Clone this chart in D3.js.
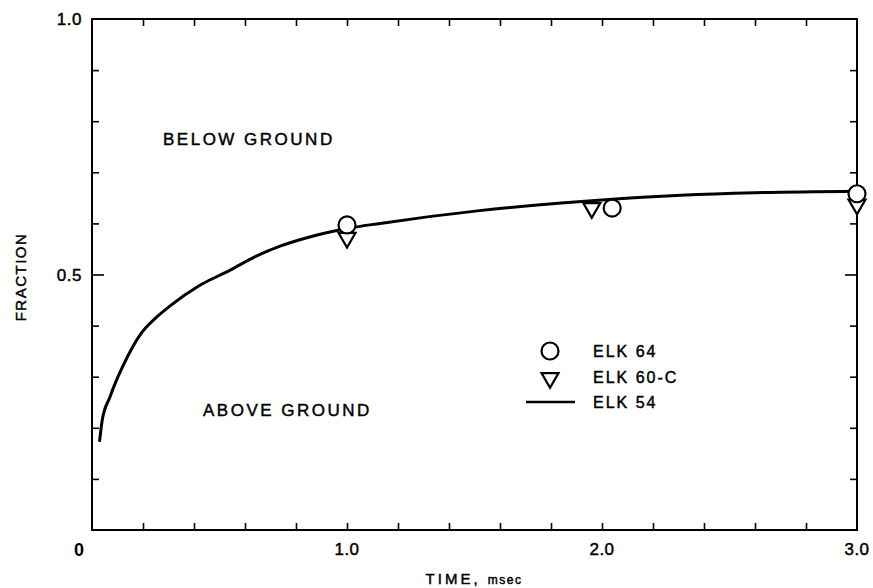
<!DOCTYPE html>
<html>
<head>
<meta charset="utf-8">
<script src="https://cdn.jsdelivr.net/npm/d3@7"></script>
<style>
  body { margin: 0; background: #fff; }
  svg { display: block; font-family: "Liberation Sans", Arial, sans-serif; }
  .lbl { fill: #000; stroke: #000; stroke-width: 0.45px; }
</style>
</head>
<body>
<div id="chart"></div>
<script>
// ELK 54 curve (time msec, fraction)
const curveTime = [0.03, 0.04, 0.07, 0.14, 0.19, 0.25, 0.31, 0.42, 0.54, 0.64, 0.74, 0.85, 1.0, 1.13, 1.52, 1.84, 2.0, 2.31, 2.6, 3.0];
const curveFrac = [0.175, 0.215, 0.26, 0.34, 0.383, 0.415, 0.44, 0.478, 0.508, 0.535, 0.556, 0.573, 0.59, 0.60, 0.625, 0.64, 0.646, 0.655, 0.66, 0.663];

// ELK 64 (circles)
const elk64Time = [1.0, 2.04, 3.0];
const elk64Frac = [0.597, 0.630, 0.658];

// ELK 60-C (triangles)
const elk60Time = [1.0, 1.96, 3.0];
const elk60Frac = [0.572, 0.630, 0.637];

const xTickVals = [0.2, 0.4, 0.6, 0.8, 1.0, 1.2, 1.4, 1.6, 1.8, 2.0, 2.2, 2.4, 2.6, 2.8];
const yTickVals = [0.1, 0.2, 0.3, 0.4, 0.5, 0.6, 0.7, 0.8, 0.9];
const xLabels = [{ v: 1.0, t: "1.0" }, { v: 2.0, t: "2.0" }, { v: 3.0, t: "3.0" }];
const yLabels = [{ v: 0.5, t: "0.5" }, { v: 1.0, t: "1.0" }];

const W = 873, H = 588;
const plotL = 92, plotR = 857, plotT = 19, plotB = 530;

const svg = d3.select("#chart").append("svg")
    .attr("width", W)
    .attr("height", H);

const x = d3.scaleLinear().domain([0, 3]).range([plotL, plotR]);
const y = d3.scaleLinear().domain([0, 1]).range([plotB, plotT]);

// ticks, all pointing inward; the 0.5 ticks are a bit longer
svg.append("g")
    .attr("transform", `translate(0,${plotB})`)
    .call(d3.axisBottom(x).tickValues(xTickVals).tickSize(-7).tickFormat(""))
    .call(g => g.select(".domain").remove());
svg.append("g")
    .attr("transform", `translate(0,${plotT})`)
    .call(d3.axisTop(x).tickValues(xTickVals).tickSize(-7).tickFormat(""))
    .call(g => g.select(".domain").remove());
svg.append("g")
    .attr("transform", `translate(${plotL},0)`)
    .call(d3.axisLeft(y).tickValues(yTickVals).tickSize(-7).tickFormat(""))
    .call(g => g.select(".domain").remove())
    .selectAll(".tick line").filter(d => d === 0.5).attr("x2", 12);
svg.append("g")
    .attr("transform", `translate(${plotR},0)`)
    .call(d3.axisRight(y).tickValues(yTickVals).tickSize(-7).tickFormat(""))
    .call(g => g.select(".domain").remove())
    .selectAll(".tick line").filter(d => d === 0.5).attr("x2", -12);
svg.selectAll(".tick line").attr("stroke", "#000").attr("stroke-width", 1.6);

// frame
svg.append("rect")
    .attr("x", plotL).attr("y", plotT)
    .attr("width", plotR - plotL).attr("height", plotB - plotT)
    .attr("fill", "none").attr("stroke", "#000").attr("stroke-width", 2);

// tick labels
svg.selectAll("text.xl")
    .data(xLabels)
    .enter().append("text")
    .attr("class", "xl lbl")
    .attr("x", d => x(d.v))
    .attr("y", 555)
    .attr("text-anchor", "middle")
    .style("font-size", "17px")
    .style("letter-spacing", "0.5px")
    .text(d => d.t);
svg.append("text")
    .attr("x", 79).attr("y", 556)
    .attr("text-anchor", "middle")
    .style("font-size", "18px")
    .style("font-weight", "bold")
    .text("0");
svg.selectAll("text.yl")
    .data(yLabels)
    .enter().append("text")
    .attr("class", "yl lbl")
    .attr("x", 82)
    .attr("y", d => y(d.v) + 6)
    .attr("text-anchor", "end")
    .style("font-size", "17px")
    .style("letter-spacing", "0.5px")
    .text(d => d.t);

// axis titles
const xt = svg.append("text")
    .attr("class", "lbl")
    .attr("x", 474).attr("y", 584)
    .attr("text-anchor", "middle");
xt.append("tspan").style("font-size", "15px").style("letter-spacing", "3px").text("TIME, ");
xt.append("tspan").style("font-size", "12px").style("letter-spacing", "1.5px").text("msec");

svg.append("text")
    .attr("class", "lbl")
    .attr("transform", "translate(26,277) rotate(-90)")
    .attr("text-anchor", "middle")
    .style("font-size", "15px")
    .style("letter-spacing", "1.5px")
    .text("FRACTION");

// region labels
svg.append("text")
    .attr("class", "lbl")
    .attr("x", 163).attr("y", 145)
    .style("font-size", "17px")
    .style("letter-spacing", "2.5px")
    .text("BELOW GROUND");
svg.append("text")
    .attr("class", "lbl")
    .attr("x", 203).attr("y", 416)
    .style("font-size", "17px")
    .style("letter-spacing", "2.5px")
    .text("ABOVE GROUND");

// ELK 54 curve
const curveData = curveTime.map((t, i) => ({ t: t, f: curveFrac[i] }));
svg.append("path")
    .datum(curveData)
    .attr("fill", "none")
    .attr("stroke", "#000")
    .attr("stroke-width", 3)
    .attr("stroke-linejoin", "round")
    .attr("stroke-linecap", "round")
    .attr("d", d3.line().x(d => x(d.t)).y(d => y(d.f)).curve(d3.curveMonotoneX));

// ELK 60-C triangles
const tri = d3.symbol().type(d3.symbolTriangle).size(125);
svg.selectAll("path.tri")
    .data(elk60Time.map((t, i) => ({ t: t, f: elk60Frac[i] })))
    .enter().append("path")
    .attr("class", "tri")
    .attr("transform", d => `translate(${x(d.t)},${y(d.f)}) rotate(180)`)
    .attr("d", tri)
    .attr("fill", "#fff")
    .attr("stroke", "#000")
    .attr("stroke-width", 2.2);

// ELK 64 circles
svg.selectAll("circle.c64")
    .data(elk64Time.map((t, i) => ({ t: t, f: elk64Frac[i] })))
    .enter().append("circle")
    .attr("class", "c64")
    .attr("cx", d => x(d.t))
    .attr("cy", d => y(d.f))
    .attr("r", 8.5)
    .attr("fill", "#fff")
    .attr("stroke", "#000")
    .attr("stroke-width", 2.2);

// legend
const lg = svg.append("g");
lg.append("circle")
    .attr("cx", 550).attr("cy", 351).attr("r", 8.5)
    .attr("fill", "#fff").attr("stroke", "#000").attr("stroke-width", 2.2);
lg.append("path")
    .attr("transform", "translate(550,378) rotate(180)")
    .attr("d", tri)
    .attr("fill", "#fff").attr("stroke", "#000").attr("stroke-width", 2.2);
lg.append("line")
    .attr("x1", 526).attr("x2", 575).attr("y1", 402).attr("y2", 402)
    .attr("stroke", "#000").attr("stroke-width", 2.5);
const legendText = ["ELK 64", "ELK 60-C", "ELK 54"];
lg.selectAll("text.lt")
    .data(legendText)
    .enter().append("text")
    .attr("class", "lt lbl")
    .attr("x", 593)
    .attr("y", (d, i) => 357 + i * 25.5)
    .style("font-size", "16px")
    .style("letter-spacing", "2px")
    .text(d => d);
</script>
</body>
</html>
